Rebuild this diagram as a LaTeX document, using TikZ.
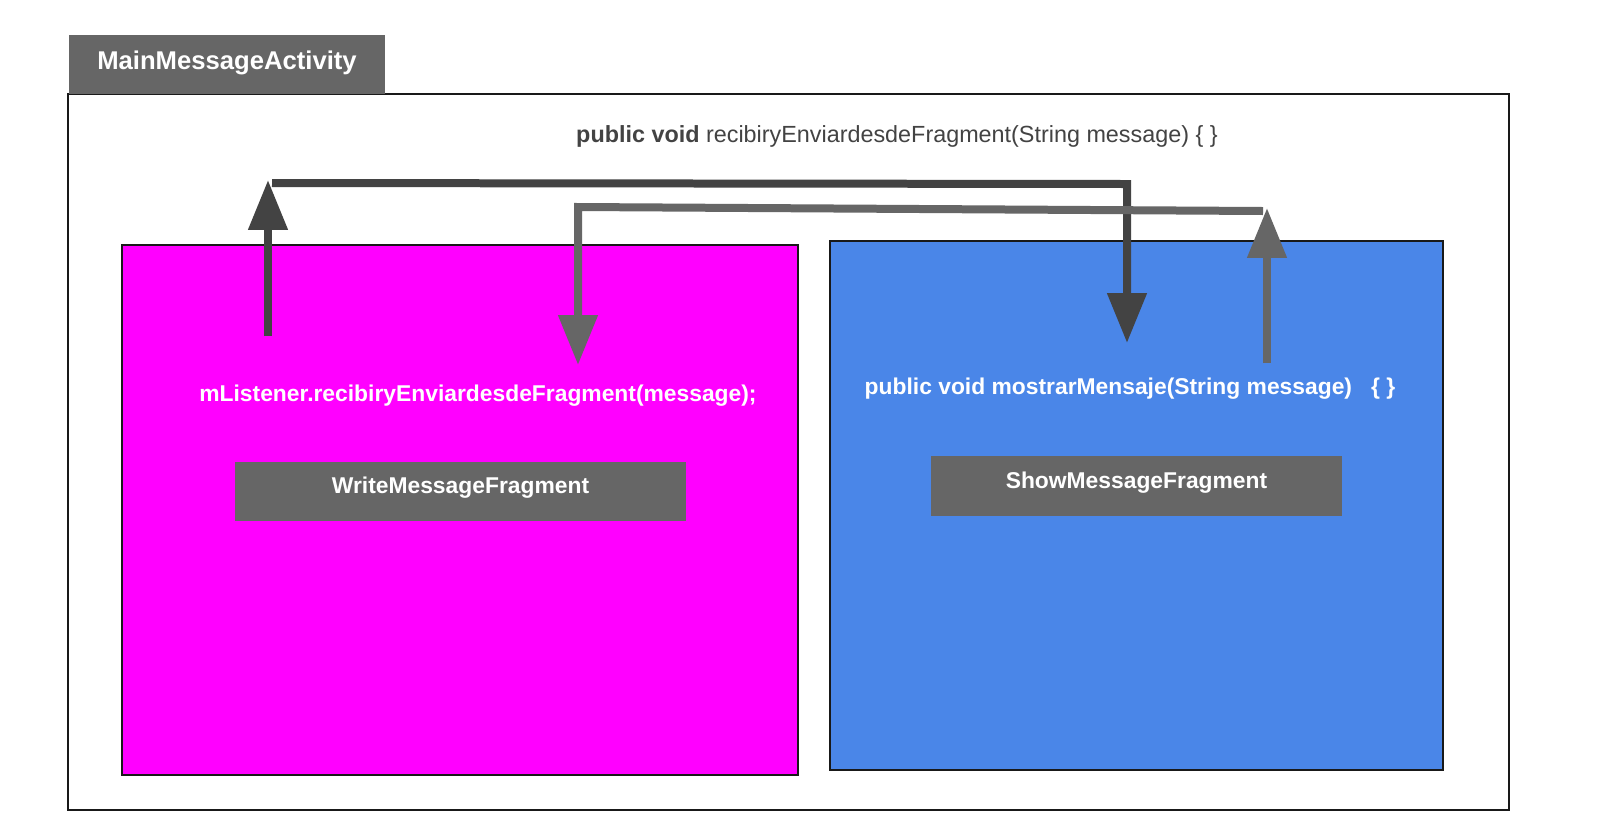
\documentclass[tikz,border=0pt]{standalone}
\usepackage{fontspec}
\setmainfont{Liberation Sans}
\usetikzlibrary{arrows.meta}
\definecolor{dk}{HTML}{434343}
\definecolor{md}{HTML}{666666}
\definecolor{mag}{HTML}{FF00FF}
\definecolor{blu}{HTML}{4A86E8}
\tikzset{
 box/.style={draw=black!90, line width=0.7pt, inner sep=0pt, outer sep=0pt},
 tag/.style={fill=md, draw=none, inner sep=0pt},
 lbl/.style={text=white, font=\bfseries\fontsize{13}{15}\selectfont, inner sep=0pt},
 conn/.style={line width=0.16cm, -{Triangle[length=1cm,width=0.76cm]}},
}
\begin{document}
\begin{tikzpicture}[x=0.02cm,y=-0.02cm]
\path[use as bounding box, fill=white] (0,0) rectangle (1603,836);
\node[box, line width=1pt, minimum width=28.82cm, minimum height=14.32cm] (frame) at (788.5,452) {};
\node[tag, minimum width=6.32cm, minimum height=1.18cm] (title) at (227,64.5) {};
\node[lbl, font=\bfseries\fontsize{14.6}{17}\selectfont] (titletext) at (227,63) {MainMessageActivity};
\node[text=dk, font=\fontsize{13.3}{16}\selectfont, inner sep=0pt] (sig) at (897,136) {\textbf{public void} recibiryEnviardesdeFragment(String message) \{ \}};
\node[box, fill=mag, minimum width=13.52cm, minimum height=10.6cm] (write) at (460,510) {};
\node[box, fill=blu, minimum width=12.26cm, minimum height=10.58cm] (show) at (1136.5,505.5) {};
\node[lbl] (call) at (478,396) {mListener.recibiryEnviardesdeFragment(message);};
\node[lbl] (method) at (1130,389) {public void mostrarMensaje(String message)\ \ \ \{ \}};
\node[tag, minimum width=9.02cm, minimum height=1.18cm] (wtag) at (460.5,491.5) {};
\node[lbl] (wtext) at (460.5,488) {WriteMessageFragment};
\node[tag, minimum width=8.22cm, minimum height=1.2cm] (stag) at (1136.5,486) {};
\node[lbl] (stext) at (1136.5,483) {ShowMessageFragment};
\coordinate (a1s) at (268,336);
\coordinate (a1t) at (268,180);
\coordinate (h1s) at (272,183);
\coordinate (h1c) at (1127,184);
\coordinate (a2t) at (1127,343);
\coordinate (a3s) at (1267,363);
\coordinate (a3t) at (1267,208);
\coordinate (h2s) at (1263,211);
\coordinate (h2c) at (578,207);
\coordinate (a4t) at (578,365);
\draw[conn, dk] (a1s) -- (a1t);
\draw[conn, dk] (h1s) -- (h1c) -- (a2t);
\draw[conn, md] (a3s) -- (a3t);
\draw[conn, md] (h2s) -- (h2c) -- (a4t);
\end{tikzpicture}
\end{document}
